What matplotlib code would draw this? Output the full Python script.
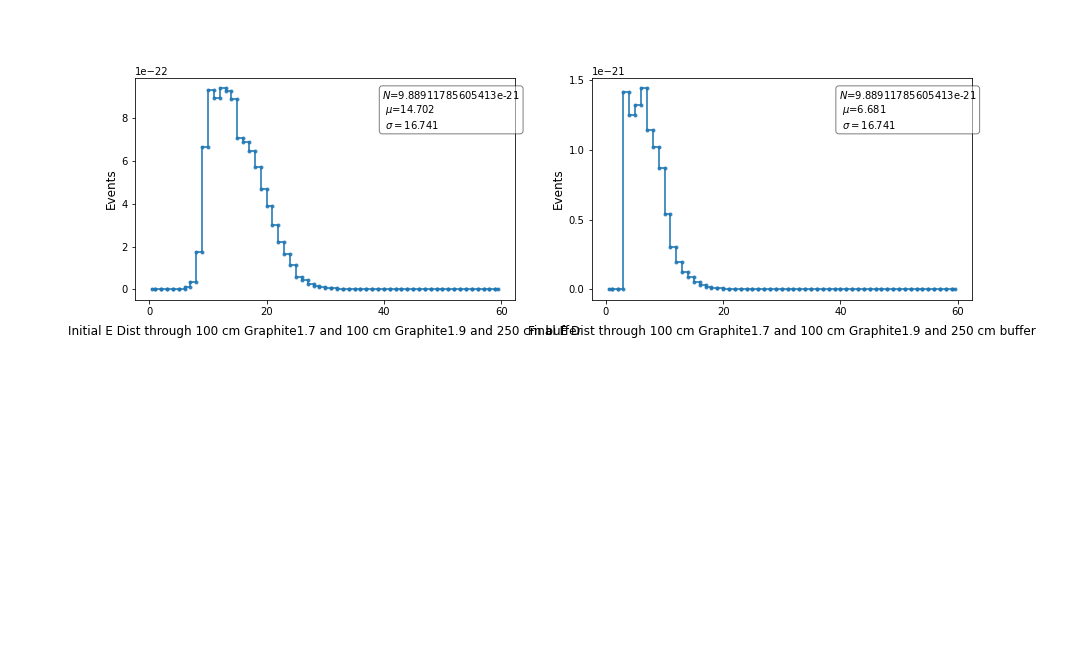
import numpy as np
import matplotlib
matplotlib.use('Agg')
import matplotlib.pyplot as plt
from matplotlib.ticker import MultipleLocator

# bin centres (MeV) and contents
bin_centers = np.arange(60) + 0.5

initial_e = np.array([
    0, 0, 0, 0, 0, 0, 0.10, 0.33, 1.76, 6.64,
    9.29, 8.90, 9.39, 9.26, 8.88, 7.05, 6.87, 6.46, 5.71, 4.69,
    3.87, 3.02, 2.19, 1.63, 1.16, 0.60, 0.42, 0.26, 0.17, 0.11,
    0.07, 0.05, 0.03, 0.02, 0.01, 0.01, 0, 0, 0, 0,
    0, 0, 0, 0, 0, 0, 0, 0, 0, 0,
    0, 0, 0, 0, 0, 0, 0, 0, 0, 0,
]) * 1e-22

final_e = np.array([
    0, 0, 0, 1.418, 1.251, 1.325, 1.446, 1.145, 1.023, 0.872,
    0.544, 0.307, 0.195, 0.123, 0.087, 0.051, 0.033, 0.021, 0.012, 0.007,
    0.005, 0.002, 0.001, 0, 0, 0, 0, 0, 0, 0,
    0, 0, 0, 0, 0, 0, 0, 0, 0, 0,
    0, 0, 0, 0, 0, 0, 0, 0, 0, 0,
    0, 0, 0, 0, 0, 0, 0, 0, 0, 0,
]) * 1e-21

norms = ['9.88911785605413e-21', '9.88911785605413e-21']
means = [14.702, 6.681]
sigmas = [16.741, 16.741]
labels = ['Initial E Dist through 100 cm Graphite1.7 and 100 cm Graphite1.9 and 250 cm buffer',
          'Final E Dist through 100 cm Graphite1.7 and 100 cm Graphite1.9 and 250 cm buffer']
y_steps = [2e-22, 0.5e-21]


# steps-mid outline, with a marker on every corner
def step_vertices(x, y):
    mids = (x[:-1] + x[1:]) / 2
    xs = np.concatenate([[x[0]], np.repeat(mids, 2), [x[-1]]])
    ys = np.repeat(y, 2)
    return xs, ys


fig = plt.figure(figsize=(15, 9), dpi=72)
plt.subplots_adjust(hspace=0.25)

for i, data in enumerate([initial_e, final_e]):
    ax = plt.subplot(2, 2, i + 1)
    xs, ys = step_vertices(bin_centers, data)
    ax.plot(xs, ys, color='C0', lw=2, marker='.', alpha=0.8)
    ax.xaxis.set_major_locator(MultipleLocator(20))
    ax.yaxis.set_major_locator(MultipleLocator(y_steps[i]))
    ax.set_xlabel(labels[i], fontsize=12, labelpad=8)
    ax.set_ylabel('Events', fontsize=12)
    txt = '$N$=' + norms[i] + '\n $\\mu$=' + str(means[i]) + '\n $\\sigma=' + str(sigmas[i]) + '$'
    ax.text(0.65, 0.95, txt, transform=ax.transAxes, va='top',
            bbox=dict(boxstyle='round', facecolor='white', alpha=0.5))

fig.savefig('out.png', dpi=72)
